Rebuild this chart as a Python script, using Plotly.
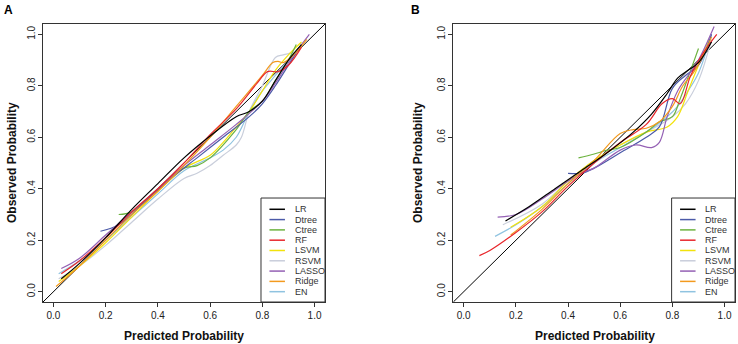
import plotly.graph_objects as go

# ---------------- data ----------------
MODELS = ["LR", "Dtree", "Ctree", "RF", "LSVM", "RSVM", "LASSO", "Ridge", "EN"]
COLORS = ["#000000", "#4B5AA8", "#6DB33F", "#E8262B", "#F2E20C",
          "#C9CEDB", "#9460B4", "#F39A1E", "#8FC3E0"]
TICKS = [0.0, 0.2, 0.4, 0.6, 0.8, 1.0]
TICK_TEXT = ["0.0", "0.2", "0.4", "0.6", "0.8", "1.0"]
DIAG = [-0.04, 1.04]
X_TITLE = "Predicted Probability"
Y_TITLE = "Observed Probability"
PANEL_LABELS = ["A", "B"]

# Panel A
A_LR_X = [0.03, 0.10, 0.20, 0.30, 0.40, 0.50, 0.60, 0.70, 0.75, 0.80, 0.85, 0.90, 0.95]
A_LR_Y = [0.05, 0.11, 0.21, 0.32, 0.42, 0.52, 0.605, 0.68, 0.70, 0.74, 0.82, 0.90, 0.96]
A_DTREE_X = [0.18, 0.25, 0.35, 0.45, 0.55, 0.65, 0.75, 0.80, 0.85, 0.90, 0.95]
A_DTREE_Y = [0.235, 0.26, 0.35, 0.44, 0.52, 0.60, 0.68, 0.73, 0.80, 0.88, 0.96]
A_CTREE_X = [0.25, 0.30, 0.40, 0.50, 0.55, 0.60, 0.70, 0.75, 0.80, 0.85, 0.90, 0.93]
A_CTREE_Y = [0.30, 0.31, 0.40, 0.48, 0.49, 0.52, 0.63, 0.70, 0.74, 0.82, 0.90, 0.96]
A_RF_X = [0.03, 0.10, 0.20, 0.30, 0.40, 0.50, 0.60, 0.70, 0.78, 0.82, 0.86, 0.90, 0.95]
A_RF_Y = [0.07, 0.12, 0.21, 0.31, 0.40, 0.50, 0.61, 0.71, 0.81, 0.855, 0.855, 0.88, 0.95]
A_LSVM_X = [0.02, 0.10, 0.20, 0.30, 0.40, 0.50, 0.60, 0.65, 0.70, 0.75, 0.80, 0.85, 0.90, 0.95]
A_LSVM_Y = [0.04, 0.10, 0.19, 0.29, 0.39, 0.48, 0.53, 0.58, 0.64, 0.70, 0.78, 0.86, 0.92, 0.97]
A_RSVM_X = [0.02, 0.10, 0.20, 0.30, 0.40, 0.50, 0.55, 0.60, 0.65, 0.70, 0.72, 0.75, 0.80, 0.85, 0.88, 0.92]
A_RSVM_Y = [0.05, 0.10, 0.18, 0.27, 0.36, 0.44, 0.46, 0.49, 0.53, 0.57, 0.60, 0.70, 0.80, 0.91, 0.92, 0.93]
A_LASSO_X = [0.03, 0.10, 0.20, 0.30, 0.40, 0.50, 0.60, 0.70, 0.80, 0.85, 0.90, 0.95, 0.98]
A_LASSO_Y = [0.09, 0.13, 0.22, 0.31, 0.40, 0.49, 0.57, 0.65, 0.74, 0.81, 0.89, 0.96, 1.00]
A_RIDGE_X = [0.01, 0.10, 0.20, 0.30, 0.40, 0.50, 0.60, 0.70, 0.80, 0.84, 0.86, 0.88, 0.92, 0.97]
A_RIDGE_Y = [0.02, 0.10, 0.20, 0.30, 0.39, 0.49, 0.60, 0.72, 0.84, 0.89, 0.895, 0.89, 0.92, 0.98]
A_EN_X = [0.02, 0.10, 0.20, 0.30, 0.40, 0.50, 0.60, 0.65, 0.70, 0.75, 0.80, 0.85, 0.90, 0.95]
A_EN_Y = [0.07, 0.12, 0.20, 0.29, 0.38, 0.47, 0.52, 0.55, 0.60, 0.70, 0.78, 0.84, 0.90, 0.96]

# Panel B
B_LR_X = [0.16, 0.25, 0.35, 0.45, 0.55, 0.65, 0.72, 0.78, 0.82, 0.86, 0.90, 0.95]
B_LR_Y = [0.275, 0.33, 0.40, 0.47, 0.54, 0.62, 0.69, 0.77, 0.83, 0.86, 0.89, 0.97]
B_DTREE_X = [0.40, 0.45, 0.50, 0.60, 0.70, 0.75, 0.80, 0.85, 0.90, 0.95]
B_DTREE_Y = [0.46, 0.46, 0.48, 0.54, 0.60, 0.64, 0.79, 0.84, 0.88, 1.00]
B_CTREE_X = [0.44, 0.50, 0.55, 0.60, 0.70, 0.75, 0.80, 0.83, 0.87, 0.90]
B_CTREE_Y = [0.52, 0.535, 0.55, 0.56, 0.62, 0.66, 0.68, 0.75, 0.86, 0.945]
B_RF_X = [0.06, 0.10, 0.20, 0.30, 0.40, 0.50, 0.60, 0.70, 0.76, 0.80, 0.83, 0.87, 0.92, 0.97]
B_RF_Y = [0.14, 0.16, 0.23, 0.31, 0.41, 0.50, 0.58, 0.65, 0.73, 0.75, 0.73, 0.84, 0.93, 1.00]
B_LSVM_X = [0.18, 0.30, 0.40, 0.50, 0.60, 0.70, 0.78, 0.82, 0.86, 0.90, 0.94]
B_LSVM_Y = [0.25, 0.33, 0.43, 0.51, 0.57, 0.62, 0.64, 0.68, 0.78, 0.88, 0.98]
B_RSVM_X = [0.15, 0.30, 0.40, 0.50, 0.60, 0.70, 0.80, 0.85, 0.90, 0.95]
B_RSVM_Y = [0.26, 0.34, 0.43, 0.51, 0.57, 0.62, 0.68, 0.73, 0.82, 0.98]
B_LASSO_X = [0.13, 0.20, 0.30, 0.40, 0.46, 0.50, 0.60, 0.66, 0.72, 0.75, 0.78, 0.82, 0.86, 0.90, 0.96]
B_LASSO_Y = [0.29, 0.30, 0.36, 0.43, 0.465, 0.48, 0.55, 0.57, 0.56, 0.58, 0.68, 0.78, 0.84, 0.90, 1.03]
B_RIDGE_X = [0.18, 0.30, 0.40, 0.50, 0.60, 0.65, 0.70, 0.75, 0.80, 0.84, 0.88, 0.92, 0.95]
B_RIDGE_Y = [0.22, 0.32, 0.42, 0.51, 0.615, 0.63, 0.635, 0.66, 0.72, 0.80, 0.85, 0.92, 0.99]
B_EN_X = [0.12, 0.20, 0.30, 0.40, 0.50, 0.60, 0.70, 0.78, 0.82, 0.86, 0.90, 0.95]
B_EN_Y = [0.215, 0.26, 0.33, 0.42, 0.50, 0.56, 0.62, 0.68, 0.72, 0.78, 0.85, 1.00]

PANEL_A = [(A_LR_X, A_LR_Y), (A_DTREE_X, A_DTREE_Y), (A_CTREE_X, A_CTREE_Y),
           (A_RF_X, A_RF_Y), (A_LSVM_X, A_LSVM_Y), (A_RSVM_X, A_RSVM_Y),
           (A_LASSO_X, A_LASSO_Y), (A_RIDGE_X, A_RIDGE_Y), (A_EN_X, A_EN_Y)]
PANEL_B = [(B_LR_X, B_LR_Y), (B_DTREE_X, B_DTREE_Y), (B_CTREE_X, B_CTREE_Y),
           (B_RF_X, B_RF_Y), (B_LSVM_X, B_LSVM_Y), (B_RSVM_X, B_RSVM_Y),
           (B_LASSO_X, B_LASSO_Y), (B_RIDGE_X, B_RIDGE_Y), (B_EN_X, B_EN_Y)]

# ---------------- figure ----------------
W, H = 738, 344
fig = go.Figure()

panels = [("x", "y", PANEL_A), ("x2", "y2", PANEL_B)]
draw_order = [5, 8, 4, 2, 1, 6, 7, 3, 0]  # light lines first
for xa, ya, data in panels:
    fig.add_trace(go.Scatter(x=DIAG, y=DIAG, mode="lines", xaxis=xa, yaxis=ya,
                             line=dict(color="black", width=1), showlegend=False,
                             hoverinfo="skip"))
    for i in draw_order:
        xs, ys = data[i]
        fig.add_trace(go.Scatter(x=xs, y=ys, mode="lines", name=MODELS[i],
                                 xaxis=xa, yaxis=ya, showlegend=False,
                                 line=dict(color=COLORS[i], width=1.2,
                                           shape="spline", smoothing=1.0)))


def px_x(p):
    return p / W


def px_y(p):
    return 1 - p / H


FONT = "Liberation Sans, Arial"
tickfont = dict(family=FONT, size=10, color="#222222")
axis_common = dict(range=[-0.04, 1.04], tickvals=TICKS, ticktext=TICK_TEXT,
                   showgrid=False, zeroline=False, showline=True, mirror=True,
                   linecolor="#333333", linewidth=1, ticks="outside", ticklen=4,
                   tickcolor="#333333", tickfont=tickfont, automargin=False,
                   tickprefix="<b>", ticksuffix="</b>")

dom_y = [px_y(302), px_y(24)]
fig.update_layout(
    width=W, height=H, margin=dict(l=0, r=0, t=0, b=0, autoexpand=False),
    paper_bgcolor="white", plot_bgcolor="white", showlegend=False,
    xaxis=dict(domain=[px_x(43), px_x(325)], anchor="y", **axis_common),
    yaxis=dict(domain=dom_y, anchor="x", tickangle=-90, ticklabelstandoff=-1, **axis_common),
    xaxis2=dict(domain=[px_x(453.3), px_x(735)], anchor="y2", **axis_common),
    yaxis2=dict(domain=dom_y, anchor="x2", tickangle=-90, ticklabelstandoff=-1, **axis_common),
)

titlefont = dict(family=FONT, size=12, color="#111111")
# axis titles
for xc, ytc in [(184, 12), (595, 418)]:
    fig.add_annotation(text=f"<b>{X_TITLE}</b>", xref="paper", yref="paper",
                       x=px_x(xc), y=px_y(336), xanchor="center", yanchor="middle",
                       showarrow=False, font=titlefont)
    fig.add_annotation(text=f"<b>{Y_TITLE}</b>", xref="paper", yref="paper",
                       x=px_x(ytc), y=px_y(163), xanchor="center", yanchor="middle",
                       textangle=-90, showarrow=False, font=titlefont)

# panel labels
for lab, xp in zip(PANEL_LABELS, [2, 409]):
    fig.add_annotation(text=f"<b>{lab}</b>", xref="paper", yref="paper",
                       x=px_x(xp), y=px_y(1), xanchor="left", yanchor="top",
                       showarrow=False, font=dict(family=FONT, size=12, color="black"))

# legends inside each panel (bottom-right box)
legfont = dict(family=FONT, size=9, color="#333333")
for n, (box_l, line_l, line_r, text_l) in [("", (0.773, 0.803, 0.858, 0.885)),
                                           ("2", (0.775, 0.805, 0.860, 0.887))]:
    xr, yr = f"x{n} domain", f"y{n} domain"
    fig.add_shape(type="rect", xref=xr, yref=yr, x0=box_l, x1=1.0, y0=0.0, y1=0.374,
                  line=dict(color="#333333", width=1), fillcolor="white", layer="above")
    for k, m in enumerate(MODELS):
        yy = 0.3335 - k * 0.03705
        fig.add_shape(type="line", xref=xr, yref=yr, x0=line_l, x1=line_r, y0=yy, y1=yy,
                      line=dict(color=COLORS[k], width=1.5), layer="above")
        fig.add_annotation(text=m, xref=xr, yref=yr, x=text_l, y=yy, xanchor="left",
                           yanchor="middle", showarrow=False, font=legfont)

fig.write_html("out.html", config={"displayModeBar": False},
               post_script="document.body.style.margin='0px';document.body.style.overflow='hidden';")
